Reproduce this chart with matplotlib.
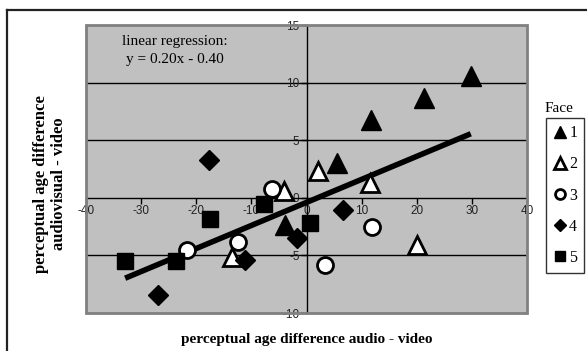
import numpy as np
import matplotlib
matplotlib.use('Agg')
import matplotlib.pyplot as plt
from matplotlib.lines import Line2D
from matplotlib.patches import Rectangle

# data (x = audio - video, y = audiovisual - video)
face1_x = [29.8, 21.3, 11.7, 5.6, -3.9]
face1_y = [10.6, 8.7, 6.75, 3.05, -2.35]
face2_x = [2.0, 11.5, 20.1, -4.1, -13.6]
face2_y = [2.35, 1.25, -4.1, 0.6, -5.1]
face3_x = [-6.2, -12.4, -21.7, 3.4, 11.8]
face3_y = [0.75, -3.85, -4.55, -5.85, -2.55]
face4_x = [-17.6, -26.9, -11.2, -1.8, 6.6]
face4_y = [3.3, -8.45, -5.4, -3.45, -1.1]
face5_x = [-32.9, -23.7, -17.5, -7.8, 0.6]
face5_y = [-5.45, -5.45, -1.85, -0.55, -2.15]

slope = 0.20
intercept = -0.40

xticks = [-40, -30, -20, -10, 0, 10, 20, 30, 40]
yticks = [-10, -5, 0, 5, 10, 15]

serif = ['Liberation Serif', 'DejaVu Serif']
sans = ['Liberation Sans', 'DejaVu Sans']

fig = plt.figure(figsize=(5.87, 3.51), dpi=100)
ax = fig.add_axes([86 / 587, 1 - 313 / 351, 441 / 587, 288 / 351])
ax.set_facecolor('#C0C0C0')
ax.set_xlim(-40, 40)
ax.set_ylim(-10, 15)

# horizontal gridlines only
for yv in yticks:
    if yv not in (-10, 0, 15):
        ax.axhline(yv, color='black', lw=1, zorder=1)

# axes cross at zero
for s in ['top', 'right']:
    ax.spines[s].set_visible(False)
ax.spines['left'].set_position(('data', 0))
ax.spines['bottom'].set_position(('data', 0))
ax.spines['left'].set_linewidth(1)
ax.spines['bottom'].set_linewidth(1)
ax.add_patch(Rectangle((0, 0), 1, 1, transform=ax.transAxes, fill=False,
                       edgecolor='#808080', lw=2, clip_on=False, zorder=3))

ax.set_xticks(xticks)
ax.set_yticks(yticks)
ax.set_xticklabels([str(v) for v in xticks])
ax.set_yticklabels([str(v) for v in yticks])
ax.tick_params(direction='out', length=4, width=1, labelsize=8.5,
               labelcolor='#222222', pad=1)
for lab in ax.get_xticklabels() + ax.get_yticklabels():
    lab.set_family(sans)

# regression line over the data range
all_x = face1_x + face2_x + face3_x + face4_x + face5_x
xr = np.array([min(all_x), max(all_x)])
ax.plot(xr, slope * xr + intercept, color='black', lw=4, zorder=4,
        solid_capstyle='butt')

ms_kw = dict(ls='none', mec='black', zorder=5)
ax.plot(face1_x, face1_y, '^', ms=14, mfc='black', mew=1, label='1', **ms_kw)
ax.plot(face2_x, face2_y, '^', ms=13, mfc='white', mew=2, label='2', **ms_kw)
ax.plot(face3_x, face3_y, 'o', ms=11.5, mfc='white', mew=2, label='3', **ms_kw)
ax.plot(face4_x, face4_y, 'D', ms=9.7, mfc='black', mew=1, label='4', **ms_kw)
ax.plot(face5_x, face5_y, 's', ms=11, mfc='black', mew=1, label='5', **ms_kw)

ax.text(0.202, 0.965, 'linear regression:\ny = 0.20x - 0.40', transform=ax.transAxes,
        ha='center', va='top', multialignment='center', fontsize=11,
        family=serif, linespacing=1.5)

leg = ax.legend(loc='upper left', bbox_to_anchor=(546 / 587, 1 - 118 / 351),
                bbox_transform=fig.transFigure, frameon=True, fancybox=False,
                markerscale=0.62, handlelength=0.8, handletextpad=0.2,
                labelspacing=0.95, borderpad=0.45, borderaxespad=0,
                prop={'family': serif, 'size': 11.5})
leg.get_frame().set_edgecolor('black')
leg.get_frame().set_linewidth(1)
fig.text(545 / 587, 1 - 108 / 351, 'Face', ha='left', va='center',
         fontsize=11, family=serif)

fig.text(307 / 587, 1 - 339 / 351, 'perceptual age difference audio - video',
         ha='center', va='center', fontsize=11, fontweight='bold', family=serif)
fig.text(50 / 587, 1 - 184 / 351, 'perceptual age difference\naudiovisual - video',
         ha='center', va='center', rotation=90, multialignment='center',
         fontsize=12, fontweight='bold', family=serif, linespacing=1.1)

# outer frame (only top and left edges visible)
fig.add_artist(Line2D([7 / 587, 1], [1 - 10 / 351] * 2, color='#222222', lw=1.6))
fig.add_artist(Line2D([7 / 587] * 2, [0, 1 - 10 / 351], color='#222222', lw=1.6))

fig.savefig('out.png', dpi=100)
